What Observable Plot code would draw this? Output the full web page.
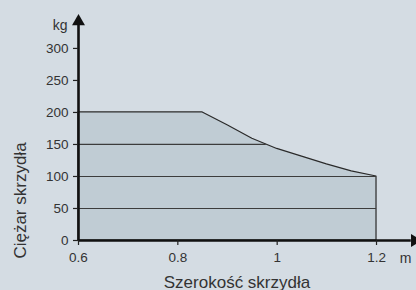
<!DOCTYPE html>
<html>
<head>
<meta charset="utf-8">
<script src="https://cdn.jsdelivr.net/npm/d3@7"></script>
<script src="https://cdn.jsdelivr.net/npm/@observablehq/plot@0.6"></script>
<style>
  html, body { margin: 0; padding: 0; background: #d4dce3; }
  #chart svg { overflow: visible; display: block; }
</style>
</head>
<body>
<div id="chart"></div>
<script>
// Data
const widths  = [0.6, 0.85, 0.9, 0.95, 1.0, 1.05, 1.1, 1.15, 1.2];   // m
const weights = [200, 200, 180, 159, 143, 131, 119, 108, 100];       // kg
const yTicks = [0, 50, 100, 150, 200, 250, 300];
const xTicks = [0.6, 0.8, 1, 1.2];
const xTickLabels = ["0.6", "0.8", "1", "1.2"];
const gridValues = [50, 100, 150];
const xTitle = "Szerokość skrzydła";
const yTitle = "Ciężar skrzydła";
const xUnit = "m";
const yUnit = "kg";
const xDomain = [0.6, 1.2805];
const yDomain = [0, 353];

const data = widths.map((w, i) => ({w, kg: weights[i]}));

// x where the envelope comes down to a given weight (gridlines end at the curve)
function reachX(g) {
  for (let i = data.length - 1; i > 0; i--) {
    const a = data[i - 1], b = data[i];
    if (b.kg >= g) return b.w;
    if (a.kg >= g && b.kg < g) {
      return a.w + (b.w - a.w) * (a.kg - g) / (a.kg - b.kg);
    }
  }
  return data[0].w;
}
const grid = gridValues.map(g => ({g, x1: widths[0], x2: reachX(g)}));

const chart = Plot.plot({
  width: 416,
  height: 290,
  marginLeft: 78,
  marginRight: 0,
  marginTop: 14,
  marginBottom: 50,
  style: {fontFamily: "'Liberation Sans', Arial, sans-serif", color: "#333", background: "transparent"},
  x: {domain: xDomain, axis: null},
  y: {domain: yDomain, axis: null},
  marks: [
    Plot.areaY(data, {x: "w", y: "kg", fill: "#c0ccd4", stroke: "#2a2a2a", strokeWidth: 1.2}),
    Plot.ruleY(grid, {y: "g", x1: "x1", x2: "x2", stroke: "#3c3c3c", strokeWidth: 1.2}),
    // axis lines with arrow heads
    Plot.ruleX([xDomain[0]], {y1: 0, y2: 340, stroke: "#111", strokeWidth: 2.6}),
    Plot.ruleY([0], {x1: xDomain[0], x2: 1.27, stroke: "#111", strokeWidth: 2.6}),
    Plot.dot([{x: xDomain[0], y: 342}], {x: "x", y: "y", symbol: "triangle", r: 4.8, fill: "#111", stroke: null}),
    Plot.dot([{x: 1.277, y: 0}], {x: "x", y: "y", symbol: "triangle", r: 4.8, fill: "#111", stroke: null, rotate: 90}),
    Plot.axisY({ticks: yTicks, tickSize: 5, tickPadding: 5, fontSize: 13.5, stroke: "#222", strokeWidth: 1.2, label: null}),
    Plot.axisX({ticks: xTicks, tickFormat: d => xTickLabels[xTicks.indexOf(d)], tickSize: 5, tickPadding: 7, fontSize: 13.5, stroke: "#222", strokeWidth: 1.2, label: null}),
    Plot.text([yUnit], {frameAnchor: "top-left", dx: -11, dy: 11, textAnchor: "end", lineAnchor: "middle", fontSize: 14}),
    Plot.text([xUnit], {frameAnchor: "bottom-right", dx: -11, dy: 18, textAnchor: "middle", lineAnchor: "middle", fontSize: 14}),
    Plot.text([xTitle], {frameAnchor: "bottom-left", dx: 158.5, dy: 47, textAnchor: "middle", lineAnchor: "bottom", fontSize: 17}),
    Plot.text([yTitle], {frameAnchor: "bottom-left", dx: -58, dy: -40, rotate: -90, textAnchor: "middle", lineAnchor: "middle", fontSize: 17})
  ]
});
document.getElementById("chart").appendChild(chart);
</script>
</body>
</html>
